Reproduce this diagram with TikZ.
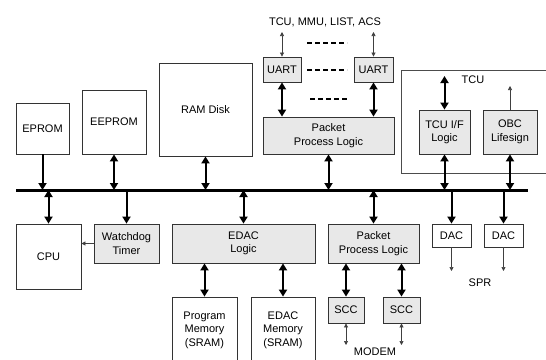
\documentclass[tikz,border=0pt]{standalone}
\usepackage{fontspec}
\setmainfont{Liberation Sans}
\usetikzlibrary{arrows.meta}

\begin{document}
\begin{tikzpicture}[
            x=1pt, y=-1pt,
            every node/.style={font=\fontsize{11}{13.5}\selectfont, align=center},
            box/.style={draw=black!80, fill=white, inner sep=0pt, line width=0.8pt},
            graybox/.style={box, fill=black!9},
            bigarrow/.style={line width=2pt, -{Triangle[length=7pt,width=8pt]}},
            bigboth/.style={line width=2pt, {Triangle[length=7pt,width=8pt]}-{Triangle[length=7pt,width=8pt]}},
            thinarrow/.style={line width=0.7pt, black!75, -{Triangle[length=4pt,width=4pt]}},
            thinboth/.style={line width=0.7pt, black!75, {Triangle[length=4pt,width=4pt]}-{Triangle[length=4pt,width=4pt]}},
            gap/.style={line width=1.4pt, dash pattern=on 5pt off 3pt}
        ]
        \useasboundingbox (0,0) rectangle (546,359);
        % bus
        \coordinate (busW) at (16,190);
        \coordinate (busE) at (528,190);
        \draw[line width=3pt] (busW) -- (busE);
        % upper side
        \node[box, minimum width=53, minimum height=51] (eprom) at (42.5,128.5) {EPROM};
        \node[box, minimum width=64, minimum height=64] (eeprom) at (114,122) {EEPROM};
        \node[box, minimum width=93, minimum height=93] (ramdisk) at (205.5,109.5) {RAM Disk};
        \node[graybox, minimum width=38, minimum height=25] (uartL) at (282,69.5) {UART};
        \node[graybox, minimum width=39, minimum height=25] (uartR) at (373.5,69.5) {UART};
        \node[graybox, minimum width=131, minimum height=37] (pplTop) at (328.5,135.5) {Packet\\Process Logic};
        \node[box, fill=none, draw=black!70, anchor=north west, minimum width=148, minimum height=103] (tcu) at (401,70) {};
        \node (tcuLabel) at (473,80) {TCU};
        \node[graybox, minimum width=51, minimum height=44] (tcuif) at (444.5,132) {TCU I/F\\Logic};
        \node[graybox, minimum width=54, minimum height=44] (obc) at (510,132) {OBC\\Lifesign};
        \node (links) at (325,22) {TCU, MMU, LIST, ACS};
        % lower side
        \node[box, minimum width=65, minimum height=65] (cpu) at (48.5,256.5) {CPU};
        \node[graybox, minimum width=65, minimum height=39] (wdog) at (126.5,243.5) {Watchdog\\Timer};
        \node[graybox, minimum width=143, minimum height=39] (edac) at (243.5,243.5) {EDAC\\Logic};
        \node[graybox, minimum width=91, minimum height=39] (pplBot) at (373.5,243.5) {Packet\\Process Logic};
        \node[box, minimum width=39, minimum height=23] (dacL) at (451.5,235.5) {DAC};
        \node[box, minimum width=39, minimum height=23] (dacR) at (503.5,235.5) {DAC};
        \node[box, minimum width=65, minimum height=66] (progmem) at (204.5,330) {Program\\Memory\\(SRAM)};
        \node[box, minimum width=64, minimum height=66] (edacmem) at (283,330) {EDAC\\Memory\\(SRAM)};
        \node[graybox, minimum width=36, minimum height=26] (sccL) at (346,310) {SCC};
        \node[graybox, minimum width=37, minimum height=26] (sccR) at (401.5,310) {SCC};
        \node (spr) at (480,283) {SPR};
        \node (modem) at (375,352) {MODEM};
        % free ends
        \coordinate (uartLpin) at (282,32);
        \coordinate (uartRpin) at (373.5,32);
        \coordinate (tcuifpin) at (444.5,76);
        \coordinate (obcpin) at (510,86);
        \coordinate (dacLpin) at (451.5,271);
        \coordinate (dacRpin) at (503.5,271);
        \coordinate (sccLpin) at (346,345);
        \coordinate (sccRpin) at (401.5,345);
        % to and from the bus
        \draw[bigarrow] (eprom.south) -- (eprom.south |- busW);
        \draw[bigboth] (eeprom.south) -- (eeprom.south |- busW);
        \draw[bigboth] (ramdisk.south) -- (ramdisk.south |- busW);
        \draw[bigboth] (pplTop.south) -- (pplTop.south |- busW);
        \draw[bigboth] (tcuif.south) -- (tcuif.south |- busW);
        \draw[bigboth] (obc.south) -- (obc.south |- busW);
        \draw[bigboth] (cpu.north |- busW) -- (cpu.north);
        \draw[bigarrow] (wdog.north |- busW) -- (wdog.north);
        \draw[bigboth] (edac.north |- busW) -- (edac.north);
        \draw[bigboth] (pplBot.north |- busW) -- (pplBot.north);
        \draw[bigarrow] (dacL.north |- busW) -- (dacL.north);
        \draw[bigarrow] (dacR.north |- busW) -- (dacR.north);
        % other links
        \draw[bigboth] (uartL.south) -- (uartL.south |- pplTop.north);
        \draw[bigboth] (uartR.south) -- (uartR.south |- pplTop.north);
        \draw[bigboth] (progmem.north) -- (progmem.north |- edac.south);
        \draw[bigboth] (edacmem.north) -- (edacmem.north |- edac.south);
        \draw[bigboth] (sccL.north) -- (sccL.north |- pplBot.south);
        \draw[bigboth] (sccR.north) -- (sccR.north |- pplBot.south);
        \draw[bigboth] (tcuif.north) -- (tcuifpin);
        \draw[thinarrow] (obc.north) -- (obcpin);
        \draw[thinarrow] (wdog.west) -- (wdog.west -| cpu.east);
        \draw[thinboth] (uartL.north) -- (uartLpin);
        \draw[thinboth] (uartR.north) -- (uartRpin);
        \draw[thinarrow] (dacL.south) -- (dacLpin);
        \draw[thinarrow] (dacR.south) -- (dacRpin);
        \draw[thinboth] (sccL.south) -- (sccLpin);
        \draw[thinboth] (sccR.south) -- (sccRpin);
        % more UARTs
        \draw[gap] (307,43) -- (347,43);
        \draw[gap] (307,70) -- (347,70);
        \draw[gap] (310,99) -- (349,99);
    \end{tikzpicture}
\end{document}
